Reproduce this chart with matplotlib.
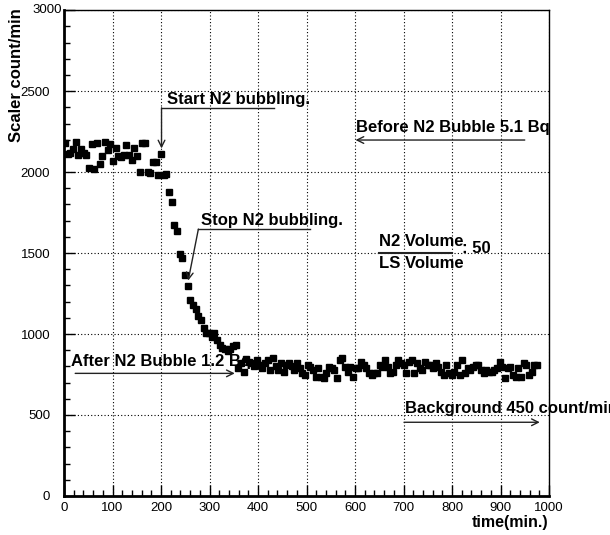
import numpy as np
import matplotlib.pyplot as plt
from matplotlib.ticker import MultipleLocator, FuncFormatter

plt.rcParams['font.family'] = ['Liberation Sans', 'DejaVu Sans']

# scaler readings (count/min), one reading every 5.5 min starting at t=2
counts_before = [2179, 2111, 2117, 2142, 2185, 2105, 2142, 2117, 2105, 2026,
                 2173, 2018, 2179, 2049, 2099, 2185, 2136, 2173, 2068, 2148,
                 2099, 2093, 2105, 2167, 2105, 2074, 2148, 2099, 2001, 2180,
                 2179, 2001, 1995, 2062, 2062, 1982]
counts_drop = [2111, 1982, 1990, 1879, 1813, 1673, 1638, 1496, 1467, 1364,
               1296, 1210, 1179, 1154, 1113, 1086, 1035, 1008, 1004, 979,
               1004, 963, 930, 912, 907, 895, 907, 925, 932]
counts_tail = [790, 819, 767, 844, 829, 819, 800, 839, 809, 788,
               820, 839, 778, 850, 805, 778]
counts_after1 = [819, 767, 809, 819, 800, 778, 819, 790, 757, 747,
                 809, 798, 778, 737, 788, 737, 726, 757, 798, 788,
                 778, 726, 839, 849, 798, 767, 798, 737, 788, 788,
                 829, 809, 788, 757, 747, 757, 757, 809, 798, 839,
                 798, 757, 767, 809, 839, 819, 809, 757, 829, 839,
                 757, 819, 788]
counts_after2 = [778, 829, 809, 809, 790, 819, 798, 767, 747, 809,
                 757, 747, 767, 809, 747, 839, 757, 788, 778, 798,
                 809, 809, 778, 757, 778, 767, 767, 778, 788, 829,
                 798, 726, 788, 798, 747, 737, 788, 737, 819, 809,
                 747, 767, 809, 809]

counts = np.array(counts_before + counts_drop + counts_tail + counts_after1 + counts_after2)
t0, dt = 2.0, 5.5
times = t0 + dt * np.arange(len(counts))

fig = plt.figure(figsize=(6.1, 5.35), dpi=100)
ax = fig.add_axes([0.105, 0.073, 0.795, 0.908])

ax.plot(times, counts, 's', color='black', markersize=4, zorder=3)

ax.set_xlim(0, 1000)
ax.set_ylim(0, 3000)
ax.xaxis.set_major_locator(MultipleLocator(100))
ax.xaxis.set_minor_locator(MultipleLocator(20))
ax.yaxis.set_major_locator(MultipleLocator(500))
ax.yaxis.set_minor_locator(MultipleLocator(100))
# top y label is drawn separately, nudged right
ax.yaxis.set_major_formatter(FuncFormatter(lambda v, p: '' if v >= 3000 else '%d' % v))
ax.tick_params(which='both', direction='in', top=False, right=False, labelsize=9.5)
ax.tick_params(which='major', length=8, width=1)
ax.tick_params(which='minor', length=4, width=1)
ax.tick_params(axis='y', pad=10)
ax.tick_params(axis='x', pad=4)
ax.grid(True, which='major', color='black', linestyle=(0, (1, 2)), linewidth=0.8)

ax.spines['left'].set_linewidth(2)
ax.spines['bottom'].set_linewidth(2)
ax.spines['top'].set_linewidth(1)
ax.spines['right'].set_linewidth(1)

fig.text(62 / 610, 1 - 10 / 535, '3000', ha='right', va='center', fontsize=9.5)
fig.text(17 / 610, 1 - 8 / 535, 'Scaler count/min', rotation=90, ha='center', va='top',
         fontsize=12, fontweight='bold')
fig.text(548 / 610, 1 - 523 / 535, 'time(min.)', ha='right', va='center',
         fontsize=11.5, fontweight='bold')

arr = dict(arrowstyle='->', color='#222222', lw=1, shrinkA=0, shrinkB=0,
           mutation_scale=12)
txt = dict(fontsize=12, fontweight='bold', ha='left', va='baseline')

# start of bubbling
ax.plot([432, 201], [2397, 2397], color='#222222', lw=1)
ax.annotate('', xy=(201, 2146), xytext=(201, 2397), arrowprops=arr)
ax.text(212, 2418, 'Start N2 bubbling.', **txt)

# end of bubbling
ax.plot([507, 277], [1648, 1648], color='#222222', lw=1)
ax.annotate('', xy=(256, 1330), xytext=(277, 1648), arrowprops=arr)
ax.text(283, 1673, 'Stop N2 bubbling.', **txt)

ax.annotate('', xy=(601, 2198), xytext=(950, 2198), arrowprops=arr)
ax.text(601, 2249, 'Before N2 Bubble 5.1 Bq', **txt)

ax.annotate('', xy=(352, 757), xytext=(23, 757), arrowprops=arr)
ax.text(14, 805, 'After N2 Bubble 1.2 Bq', **txt)

ax.annotate('', xy=(981, 455), xytext=(701, 455), arrowprops=arr, annotation_clip=False)
ax.text(703, 510, 'Background 450 count/min', clip_on=False, **txt)

# volume ratio
ax.text(650, 1545, 'N2 Volume', **txt)
ax.plot([650, 800], [1502, 1502], color='#222222', lw=1.5)
ax.text(650, 1405, 'LS Volume', **txt)
ax.text(820, 1502, ': 50', **txt)

fig.savefig('out.png', dpi=100)
